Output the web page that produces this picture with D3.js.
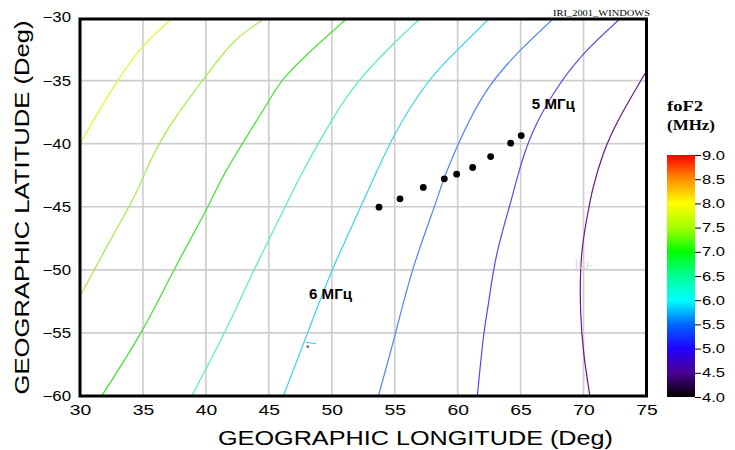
<!DOCTYPE html>
<html><head><meta charset="utf-8">
<script src="https://cdn.jsdelivr.net/npm/d3@7/dist/d3.min.js"></script>
<style>body{margin:0;background:#fff}svg{display:block}</style>
</head><body><svg id="c" width="735" height="450"></svg>
<script>
// ---- data ----
const xTicks = [30,35,40,45,50,55,60,65,70,75];
const yTicks = [-30,-35,-40,-45,-50,-55,-60];
const colorTicks = [4.0,4.5,5.0,5.5,6.0,6.5,7.0,7.5,8.0,8.5,9.0];
const levels = [8.0,7.5,7.0,6.5,6.0,5.5,5.0,4.5];
const contour_8_0 = [[30,-40],[31.4,-37.6],[32.8,-35.3],[34.9,-32.4],[37.4,-30]];
const contour_7_5 = [[30,-52.1],[32.0,-48.4],[33.97,-44.85],[34.9,-42.92],[36.75,-39.22],[39.93,-34.73],[42.31,-31.84],[44.8,-30]];
const contour_7_0 = [[31.72,-60],[34.9,-54.88],[37.55,-49.86],[40.05,-45.2],[41.78,-41.86],[44.69,-37.11],[46.28,-34.73],[48.66,-32.36],[51.3,-30]];
const contour_6_5 = [[38.87,-60],[41.52,-54.88],[43.9,-49.86],[46.2,-45.2],[47.61,-42.39],[49.99,-38.17],[52.3,-34.85],[54.89,-32.1],[57.1,-30]];
const contour_6_0 = [[46.15,-60],[48.13,-54.88],[49.99,-50.13],[52.37,-44.85],[54.89,-39.49],[57.54,-35.27],[59.92,-32.63],[62.6,-30]];
const contour_5_5 = [[53.7,-60],[55.1,-54.88],[56.47,-49.86],[58.2,-44.85],[58.86,-42.92],[60.18,-39.75],[62.3,-35.8],[64.95,-32.63],[67.7,-30]];
const contour_5_0 = [[61.56,-60],[62.04,-55.4],[62.43,-52.76],[63.1,-48.8],[64.15,-44.85],[65.05,-41.6],[66.27,-38.43],[68.12,-35.27],[70.25,-32.63],[73.0,-30]];
const contour_4_5 = [[70.5,-60],[70.03,-56.72],[69.77,-53.3],[69.85,-48.8],[70.4,-45.2],[70.77,-43.44],[71.57,-40.8],[72.89,-37.9],[75.2,-33.9]];
const contours = [contour_8_0,contour_7_5,contour_7_0,contour_6_5,contour_6_0,contour_5_5,contour_5_0,contour_4_5];
const dotLon = [53.75,55.42,57.27,58.94,59.92,61.19,62.62,64.21,65.05];
const dotLat = [-45.03,-44.37,-43.47,-42.79,-42.42,-41.89,-41.02,-39.96,-39.36];
const labelText = ["5 МГц","6 МГц"];
const labelLon = [67.6,49.9];
const labelLat = [-37.25,-52.35];
const titleText = "IRI_2001_WINDOWS";
const xTitle = "GEOGRAPHIC LONGITUDE (Deg)";
const yTitle = "GEOGRAPHIC LATITUDE (Deg)";
const legendTitle = ["foF2","(MHz)"];

// ---- styles ----
const lineColors = ["#eef028","#a6ee44","#44e034","#52eec4","#34d4f2","#4c82ff","#6a3cf0","#641a88"];
const barColors = ["#000000","#4a0092","#2000ff","#0066ff","#00ffff","#00ff98","#00ff00","#a4ff00","#ffff00","#ff8e00","#ff0000"];

const svg = d3.select("#c");
const L=80, R=646.5, T=17.5, B=396;
const x = d3.scaleLinear().domain([30,75]).range([L,R]);
const y = d3.scaleLinear().domain([-60,-30]).range([B,T]);

svg.append("defs").append("clipPath").attr("id","clip")
  .append("rect").attr("x",L).attr("y",19).attr("width",R-L).attr("height",B-19);

// grid
const grid = svg.append("g");
grid.selectAll(".gx").data(xTicks.slice(1,-1)).join("line")
  .attr("x1",d=>x(d)).attr("x2",d=>x(d)).attr("y1",19).attr("y2",B)
  .attr("stroke","#cdcdcd").attr("stroke-width",1.6);
grid.selectAll(".gy").data(yTicks.slice(1,-1)).join("line")
  .attr("y1",d=>y(d)).attr("y2",d=>y(d)).attr("x1",L).attr("x2",R)
  .attr("stroke","#cdcdcd").attr("stroke-width",1.6);

// contours
const line = d3.line().x(d=>x(d[0])).y(d=>y(d[1])).curve(d3.curveNatural);
svg.append("g").attr("clip-path","url(#clip)").selectAll("path").data(contours).join("path")
  .attr("d",line).attr("fill","none").attr("stroke",(d,i)=>lineColors[i]).attr("stroke-width",1.2);

// small artifact near 6 MHz line
svg.append("line").attr("x1",x(47.95)).attr("x2",x(48.75)).attr("y1",y(-55.75)).attr("y2",y(-55.85))
  .attr("stroke","#34d4f2").attr("stroke-width",1);
svg.append("text").attr("x",x(48.1)).attr("y",y(-56.45)).attr("text-anchor","middle")
  .attr("font-family","Liberation Sans").attr("font-size",9).attr("fill","#333").text("*");

// faint artifacts
svg.append("text").attr("x",x(69.3)).attr("y",y(-49.9)).attr("font-family","DejaVu Sans")
  .attr("font-size",12).attr("fill","#d8d8d8").text("lш-");

// dots
svg.append("g").selectAll("circle").data(dotLon).join("circle")
  .attr("cx",d=>x(d)).attr("cy",(d,i)=>y(dotLat[i])).attr("r",3.4).attr("fill","#000");

// labels
svg.append("g").selectAll("text").data(labelText).join("text")
  .attr("x",(d,i)=>x(labelLon[i])).attr("y",(d,i)=>y(labelLat[i]))
  .attr("text-anchor","middle").attr("font-family","Liberation Sans").attr("font-weight","bold")
  .attr("font-size",14).attr("textLength",43).attr("lengthAdjust","spacingAndGlyphs").text(d=>d);

// frame
svg.append("rect").attr("x",L).attr("y",19).attr("width",R-L).attr("height",B-19)
  .attr("fill","none").attr("stroke","#000").attr("stroke-width",3);

// axes
const ax = svg.append("g").attr("transform",`translate(0,${B})`)
  .call(d3.axisBottom(x).tickValues(xTicks).tickSize(0).tickPadding(9).tickFormat(d3.format("d")));
ax.select(".domain").remove();
ax.selectAll("text").attr("font-family","Liberation Sans").attr("font-size",14).attr("fill","#000")
  .attr("textLength",21.5).attr("lengthAdjust","spacingAndGlyphs");
const ay = svg.append("g").attr("transform",`translate(${L},0)`)
  .call(d3.axisLeft(y).tickValues(yTicks).tickSize(0).tickPadding(9).tickFormat(d3.format("d")));
ay.select(".domain").remove();
ay.selectAll("text").attr("font-family","Liberation Sans").attr("font-size",14).attr("fill","#000")
  .attr("textLength",28.5).attr("lengthAdjust","spacingAndGlyphs");

// axis titles
svg.append("text").attr("x",415.5).attr("y",445).attr("text-anchor","middle")
  .attr("font-family","Liberation Sans").attr("font-size",20.5).attr("fill","#000")
  .attr("textLength",395).attr("lengthAdjust","spacingAndGlyphs").text(xTitle);
svg.append("text").attr("transform","translate(28.5,207.5) rotate(-90)").attr("text-anchor","middle")
  .attr("font-family","Liberation Sans").attr("font-size",20.5).attr("fill","#000")
  .attr("textLength",374).attr("lengthAdjust","spacingAndGlyphs").text(yTitle);

// top-right title
svg.append("text").attr("x",601.5).attr("y",16).attr("text-anchor","middle")
  .attr("font-family","Liberation Serif").attr("font-size",8.5).attr("fill","#000")
  .attr("textLength",97).attr("lengthAdjust","spacingAndGlyphs").text(titleText);

// colorbar
const cy = d3.scaleLinear().domain([4,9]).range([397,155]);
const cScale = d3.scaleLinear().domain(colorTicks).range(barColors);
const grad = svg.select("defs").append("linearGradient").attr("id","cb")
  .attr("x1",0).attr("y1",1).attr("x2",0).attr("y2",0);
grad.selectAll("stop").data(d3.range(0,51)).join("stop")
  .attr("offset",d=>d/50).attr("stop-color",d=>cScale(4+d/10));
svg.append("rect").attr("x",667).attr("y",cy(9)).attr("width",28).attr("height",cy(4)-cy(9))
  .attr("fill","url(#cb)");
const cax = svg.append("g").attr("transform","translate(695,0)")
  .call(d3.axisRight(cy).tickValues(colorTicks).tickSize(6).tickPadding(1).tickFormat(d3.format(".1f")));
cax.select(".domain").remove();
cax.selectAll("line").attr("stroke","#000");
cax.selectAll("text").attr("font-family","Liberation Sans").attr("font-size",13).attr("fill","#000")
  .attr("textLength",23).attr("lengthAdjust","spacingAndGlyphs");

svg.append("g").selectAll("text").data(legendTitle).join("text")
  .attr("x",667).attr("y",(d,i)=>i===0?111:129.5)
  .attr("font-family","Liberation Serif").attr("font-weight","bold").attr("font-size",14).attr("fill","#000")
  .attr("textLength",(d,i)=>i===0?36:48).attr("lengthAdjust","spacingAndGlyphs").text(d=>d);
</script></body></html>
